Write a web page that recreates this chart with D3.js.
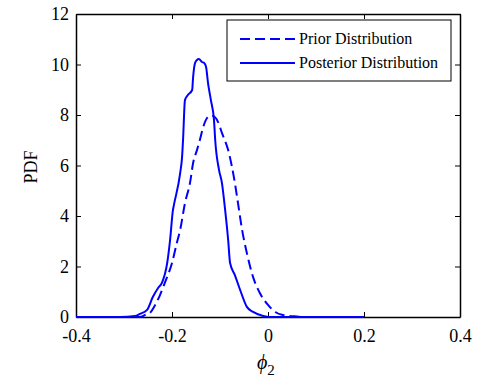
<!DOCTYPE html>
<html>
<head>
<meta charset="utf-8">
<script src="https://cdn.jsdelivr.net/npm/d3@7"></script>
<style>
  body { margin: 0; background: #fff; }
  text { font-family: "Liberation Serif", "Times New Roman", serif; fill: #000; }
</style>
</head>
<body>
<div id="chart-area"></div>
<script>
// Data
var priorX = [-0.4, -0.267, -0.256, -0.246, -0.235, -0.225, -0.215, -0.200, -0.190, -0.183, -0.173, -0.1625,
  -0.156, -0.148, -0.142, -0.135, -0.127, -0.121, -0.115, -0.104, -0.096, -0.083, -0.075, -0.069, -0.0625,
  -0.054, -0.044, -0.031, -0.017, 0.000, 0.015, 0.031, 0.060, 0.0875, 0.2];
var priorY = [0, 0.0, 0.08, 0.16, 0.48, 0.87, 1.35, 2.14, 2.93, 3.45, 4.51, 5.31,
  6.10, 6.61, 7.01, 7.52, 7.88, 7.96, 7.96, 7.72, 7.29, 6.61, 5.94, 5.31, 4.51,
  3.45, 2.53, 1.58, 0.95, 0.48, 0.20, 0.08, 0.02, 0, 0];

var postX = [-0.4, -0.308, -0.277, -0.267, -0.252, -0.240, -0.229, -0.221, -0.210, -0.204, -0.198, -0.196,
  -0.183, -0.179, -0.177, -0.173, -0.167, -0.158, -0.156, -0.152, -0.148, -0.144, -0.1375, -0.133, -0.129,
  -0.125, -0.119, -0.1125, -0.110, -0.102, -0.096, -0.090, -0.083, -0.079, -0.069, -0.058, -0.044, -0.031,
  -0.010, 0.004, 0.2];
var postY = [0, 0, 0.04, 0.12, 0.28, 0.79, 1.15, 1.35, 2.14, 3.05, 4.24, 4.44,
  5.70, 6.34, 7.01, 8.59, 8.79, 8.99, 9.50, 10.06, 10.18, 10.22, 10.10, 10.06, 9.90,
  9.27, 8.59, 7.80, 7.01, 5.82, 5.31, 4.36, 3.05, 2.14, 1.66, 1.07, 0.40, 0.20,
  0.04, 0, 0];

var xTicks = [-0.4, -0.2, 0, 0.2, 0.4];
var xTickLabels = ["-0.4", "-0.2", "0", "0.2", "0.4"];
var yTicks = [0, 2, 4, 6, 8, 10, 12];
var seriesNames = ["Prior Distribution", "Posterior Distribution"];

var W = 481, H = 378;
var margin = { top: 14, right: 21, bottom: 61, left: 76 };
var width = W - margin.left - margin.right;
var height = H - margin.top - margin.bottom;

var svg = d3.select("#chart-area").append("svg")
    .attr("width", W)
    .attr("height", H);

var g = svg.append("g")
    .attr("transform", "translate(" + margin.left + "," + margin.top + ")");

// SCALES
var x = d3.scaleLinear().domain([-0.4, 0.4]).range([0, width]);
var y = d3.scaleLinear().domain([0, 12]).range([height, 0]);

// AXES (ticks inside, mirrored on top/right)
g.append("g").attr("class", "axis")
    .attr("transform", "translate(0," + height + ")")
    .call(d3.axisBottom(x).tickValues(xTicks).tickSizeInner(-5).tickSizeOuter(0).tickPadding(12)
        .tickFormat(function (d, i) { return xTickLabels[i]; }));
g.append("g").attr("class", "axis")
    .call(d3.axisTop(x).tickValues(xTicks).tickSizeInner(-5).tickSizeOuter(0).tickFormat(""));
g.append("g").attr("class", "axis")
    .call(d3.axisLeft(y).tickValues(yTicks).tickSizeInner(-5).tickSizeOuter(0).tickPadding(7)
        .tickFormat(function (d) { return String(d); }));
g.append("g").attr("class", "axis")
    .attr("transform", "translate(" + width + ",0)")
    .call(d3.axisRight(y).tickValues(yTicks).tickSizeInner(-5).tickSizeOuter(0).tickFormat(""));

g.selectAll(".axis path").attr("stroke", "#000").attr("stroke-width", 1.5);
g.selectAll(".axis line").attr("stroke", "#000").attr("stroke-width", 1);
g.selectAll(".axis text").style("font-size", "18px").attr("fill", "#000");

// LINES
var line = d3.line()
    .curve(d3.curveMonotoneX)
    .x(function (d) { return x(d[0]); })
    .y(function (d) { return y(d[1]); });

g.append("path")
    .datum(d3.zip(priorX, priorY))
    .attr("fill", "none")
    .attr("stroke", "#0000ff")
    .attr("stroke-width", 2)
    .attr("stroke-dasharray", "10,5")
    .attr("d", line);

g.append("path")
    .datum(d3.zip(postX, postY))
    .attr("fill", "none")
    .attr("stroke", "#0000ff")
    .attr("stroke-width", 2)
    .attr("d", line);

// LABELS
svg.append("text")
    .attr("transform", "translate(37," + 167 + ") rotate(-90)")
    .attr("text-anchor", "middle")
    .style("font-size", "18px")
    .text("PDF");

var xl = svg.append("text")
    .attr("x", 257)
    .attr("y", 369)
    .style("font-size", "20px");
xl.append("tspan").attr("font-style", "italic").text("\u03d5");
xl.append("tspan").style("font-size", "15px").attr("dy", 6).text("2");

// LEGEND
var leg = svg.append("g").attr("transform", "translate(227,20)");
leg.append("rect")
    .attr("width", 224).attr("height", 61)
    .attr("fill", "#fff").attr("stroke", "#000").attr("stroke-width", 1);

seriesNames.forEach(function (name, i) {
    var yy = 19 + i * 24;
    leg.append("line")
        .attr("x1", 13).attr("x2", 68)
        .attr("y1", yy).attr("y2", yy)
        .attr("stroke", "#0000ff").attr("stroke-width", 2)
        .attr("stroke-dasharray", i === 0 ? "10,5" : null);
    leg.append("text")
        .attr("x", 72).attr("y", yy + 5)
        .style("font-size", "16px")
        .text(name);
});
</script>
</body>
</html>
